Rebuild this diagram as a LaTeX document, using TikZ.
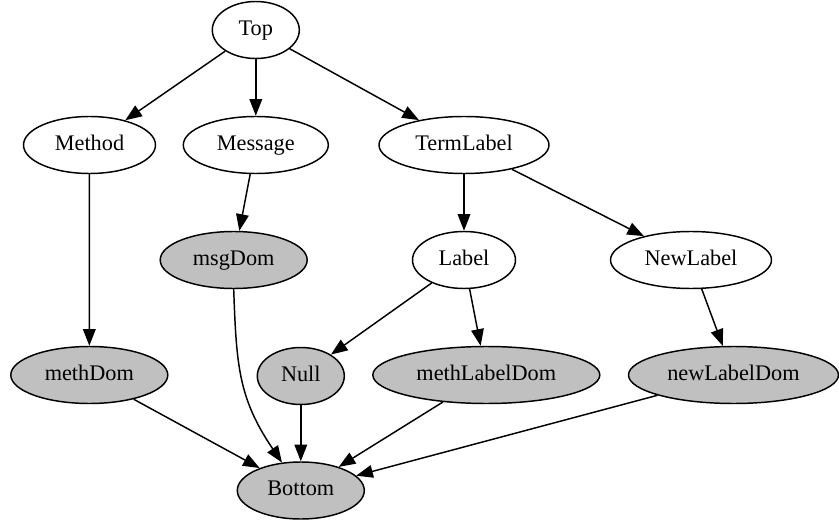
\documentclass[tikz,border=0pt]{standalone}
\usepackage{fontspec}
\setmainfont{Liberation Serif}
\usetikzlibrary{arrows.meta,shapes.geometric}
\definecolor{domgray}{HTML}{C0C0C0}
\begin{document}
\begin{tikzpicture}[x=0.75pt,y=-0.75pt,
  every node/.style={ellipse,draw=black,line width=1.1pt,inner sep=0pt,
    minimum height=42.75pt,text height=11.6pt,text depth=3.4pt,
    font=\rmfamily\fontsize{16.7}{20}\selectfont},
  plain/.style={fill=white},
  dom/.style={fill=domgray},
  link/.style={draw=black,line width=1.1pt,-{Triangle[length=12.5pt,width=9.5pt]}}]
\useasboundingbox (0,0) rectangle (839,524);

% rank 0
\node[plain,minimum width=65.25pt]  (top)      at (255.8,30)  {Top};
% rank 1
\node[plain,minimum width=99pt]     (method)   at (89.5,145)  {Method};
\node[plain,minimum width=108.75pt] (message)  at (255.8,145) {Message};
\node[plain,minimum width=127.5pt]  (term)     at (464,145)   {TermLabel};
% rank 2
\node[dom,minimum width=110.25pt]   (msgdom)   at (233.7,260) {msgDom};
\node[plain,minimum width=77.25pt]  (label)    at (464,260)   {Label};
\node[plain,minimum width=120.75pt] (newlabel) at (691,260)   {NewLabel};
% rank 3
\node[dom,minimum width=117.75pt]   (methdom)  at (89.3,375)  {methDom};
\node[dom,minimum width=65.25pt]    (null)     at (300.8,376) {Null};
\node[dom,minimum width=170.25pt]   (mldom)    at (486.3,375) {methLabelDom};
\node[dom,minimum width=157.5pt]    (nldom)    at (733.5,375) {newLabelDom};
% rank 4
\node[dom,minimum width=95.25pt]    (bottom)   at (300.8,490.5) {Bottom};

\path[link] (top) -- (method);
\path[link] (top) -- (message);
\path[link] (top) -- (term);
\path[link] (method) -- (methdom);
\path[link] (message) -- (msgdom);
\path[link] (term) -- (label);
\path[link] (term) -- (newlabel);
\path[link] (label) -- (null);
\path[link] (label) -- (mldom);
\path[link] (newlabel) -- (nldom);
\path[link] (msgdom.south) to[out=-88,in=124,looseness=1.1] (bottom.124);
\path[link] (methdom) -- (bottom);
\path[link] (null) -- (bottom);
\path[link] (mldom) -- (bottom);
\path[link] (nldom) -- (bottom);
\end{tikzpicture}
\end{document}
